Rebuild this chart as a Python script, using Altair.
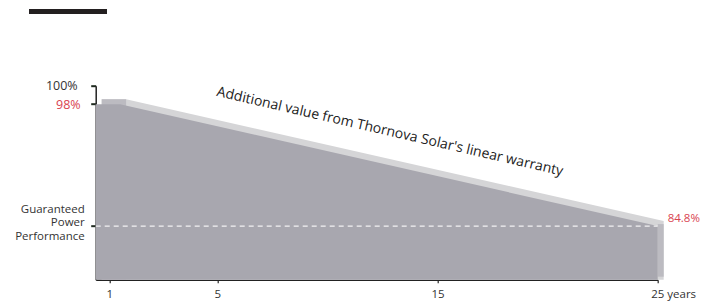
import altair as alt
import pandas as pd

# ---- data ----
face_years = [0.5, 1.4, 25]          # front face outline (years)
face_perf = [98, 98, 84.8]           # performance (%)
flat_years = [0.5, 1.4]
flat_perf = [98, 98]
guaranteed = 84.8
x_ticks = [1, 5, 15, 25]
y_ticks = [84.8, 98, 100]
annotation = "Additional value from Thornova Solar's linear warranty"
end_label = "84.8%"

FONT = "Open Sans"
FRONT = "#a8a7af"
TOP = "#d5d5d7"
MID = "#bcbbc1"
RED = "#d9434f"
DARK = "#222222"

face = pd.DataFrame({"year": face_years, "perf": face_perf})
flat = pd.DataFrame({"year": flat_years, "perf": flat_perf})

W, H = 562, 194
xscale = alt.Scale(domain=[0.5, 1, 5, 25], range=[0, 13.6, 121.6, W], nice=False, zero=False)
yscale = alt.Scale(domain=[79, 100], nice=False, zero=False)

xaxis = alt.Axis(
    values=x_ticks, title=None, grid=False,
    domainColor=DARK, domainWidth=1.5, tickColor=DARK, tickSize=3, tickWidth=1.2,
    labelFont=FONT, labelFontSize=11.5, labelColor="#333", labelPadding=6,
    labelExpr="datum.value == 25 ? '25 years' : datum.label",
    labelAlign={"condition": {"test": "datum.value == 25", "value": "left"}, "value": "center"},
    labelOffset={"condition": {"test": "datum.value == 25", "value": -7}, "value": 0},
)
yaxis = alt.Axis(
    values=y_ticks, title=None, grid=False,
    domainColor=DARK, domainWidth=1.5, tickColor="#1f2a1f", tickSize=5, tickWidth=2,
    labelFont=FONT,
    labelPadding={"condition": [
        {"test": "datum.value == 100", "value": 13.5},
        {"test": "datum.value == 98", "value": 10.5},
    ], "value": 6.5},
    labelExpr="datum.value == 84.8 ? ['Guaranteed', 'Power', 'Performance'] : datum.value + '%'",
    labelColor={"condition": {"test": "datum.value == 98", "value": RED}, "value": "#333"},
    labelFontSize={"condition": {"test": "datum.value == 84.8", "value": 11.5}, "value": 12.5},
    labelOffset={"condition": {"test": "datum.value == 84.8", "value": -17}, "value": 0},
    labelLineHeight=13.5,
)

base = alt.Chart(face)

top_face = base.mark_area(color=TOP, xOffset=6, yOffset=-5).encode(
    x=alt.X("year:Q", scale=xscale, axis=xaxis),
    y=alt.Y("perf:Q", scale=yscale, axis=yaxis),
    y2=alt.datum(79),
)
top_flat = alt.Chart(flat).mark_area(color=MID, xOffset=6, yOffset=-5).encode(
    x=alt.X("year:Q", scale=xscale),
    y=alt.Y("perf:Q", scale=yscale),
    y2=alt.datum(79),
)
right_face = alt.Chart(pd.DataFrame({"year": [face_years[-1]], "perf": [face_perf[-1]]})).mark_rule(
    color=MID, strokeWidth=6, xOffset=3, yOffset=-2, y2Offset=-3
).encode(
    x=alt.X("year:Q", scale=xscale),
    y=alt.Y("perf:Q", scale=yscale),
    y2=alt.datum(79),
)
front = base.mark_area(color=FRONT).encode(
    x=alt.X("year:Q", scale=xscale),
    y=alt.Y("perf:Q", scale=yscale),
    y2=alt.datum(79),
)
dash = alt.Chart(pd.DataFrame({"a": [face_years[0]], "b": [face_years[-1]], "g": [guaranteed]})).mark_rule(
    color="white", strokeDash=[5, 4], strokeWidth=1.2, opacity=0.85
).encode(
    x=alt.X("a:Q", scale=xscale), x2="b:Q", y=alt.Y("g:Q", scale=yscale)
)
end_text = alt.Chart(pd.DataFrame({"year": [25], "perf": [guaranteed], "t": [end_label]})).mark_text(
    color=RED, font=FONT, fontSize=11.5, align="left", dx=10, dy=-7
).encode(x=alt.X("year:Q", scale=xscale), y=alt.Y("perf:Q", scale=yscale), text="t:N")
note = alt.Chart(pd.DataFrame({"year": [12.84], "perf": [95.0], "t": [annotation]})).mark_text(
    color="#222", font=FONT, fontSize=14, angle=13, align="center", baseline="middle"
).encode(x=alt.X("year:Q", scale=xscale), y=alt.Y("perf:Q", scale=yscale), text="t:N")
bar = alt.Chart(pd.DataFrame({"k": [0]})).mark_rule(color="#231f20", strokeWidth=5).encode(
    x=alt.value(-66.7), x2=alt.value(11.3), y=alt.value(-74.2)
)

chart = alt.layer(top_face, top_flat, right_face, front, dash, end_text, note, bar).properties(
    width=W, height=H,
    autosize=alt.AutoSizeParams(type="none"),
    padding={"left": 87.7, "top": 77.7, "right": 51, "bottom": 21},
).configure_view(stroke=None)

chart.save("out.html", embed_options={"renderer": "svg", "actions": False})
